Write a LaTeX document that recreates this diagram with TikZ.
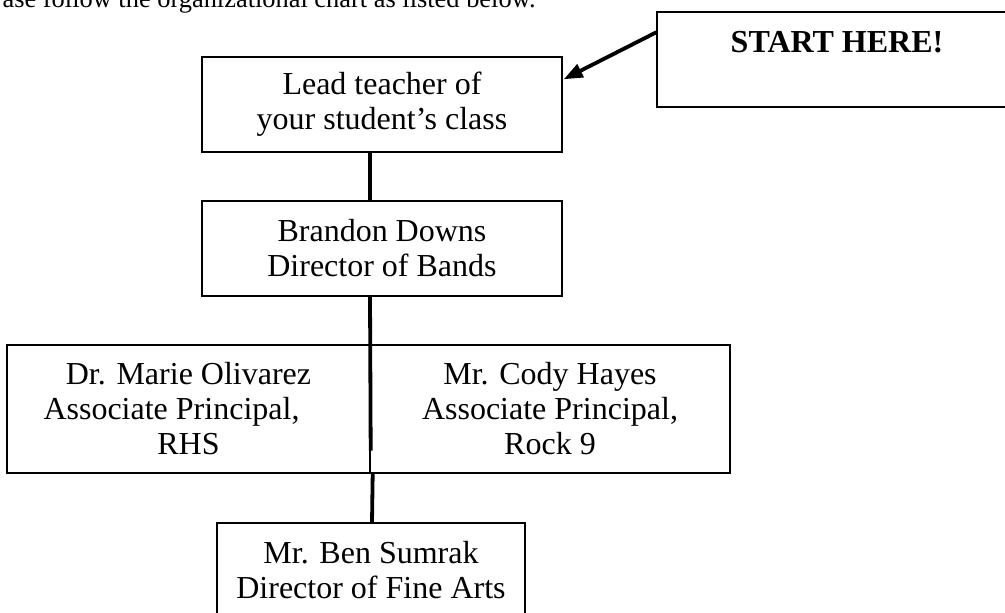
\documentclass[tikz,border=0pt]{standalone}
\usepackage{fontspec}
\setmainfont{Liberation Serif}
\usetikzlibrary{arrows.meta,calc}
\begin{document}
\begin{tikzpicture}[x=0.5pt,y=-0.5pt,
  box/.style={draw, line width=0.7pt, inner sep=0pt, align=center,
    font=\fontsize{16}{17.5}\selectfont},
  conn/.style={line width=1.9pt},
  pointer/.style={line width=1.9pt, -{Triangle[length=9.5pt,width=7pt]}},
  intro/.style={inner sep=0pt, font=\fontsize{13.2}{15}\selectfont}]
\useasboundingbox (0,0) rectangle (1005,613);
\clip (0,0) rectangle (1005,613);
\fill[white] (0,0) rectangle (1005,613);

\node[intro, anchor=base east] (introtext) at (536,8)
  {ase follow the organizational chart as listed below.};

\node[box, minimum width=180pt, minimum height=47.5pt] (start) at (837,59.5)
  {\textbf{START HERE!}\\\mbox{}};

\node[box, minimum width=180pt, minimum height=47.5pt] (lead) at (382,104.5)
  {Lead teacher of\\your student’s class};

\node[box, minimum width=180pt, minimum height=47.5pt] (brandon) at (382,248.5)
  {Brandon Downs\\Director of Bands};

\node[box, minimum width=181.5pt, minimum height=64pt] (marie) at (188.5,409)
  {Dr. Marie Olivarez\\\mbox{Associate Principal,\kern17pt}\\RHS};

\node[box, minimum width=180pt, minimum height=64pt] (cody) at (550,409)
  {Mr. Cody Hayes\\Associate Principal,\\Rock 9};

\node[box, minimum width=154pt, minimum height=47.5pt] (ben) at (371,570.5)
  {Mr. Ben Sumrak\\Director of Fine Arts};

\draw[pointer] ($(start.north west)+(0,21)$) -- ($(lead.north east)+(1,23)$);

\draw[conn] ($(lead.south)+(-12,0)$) -- ($(brandon.north)+(-12,0)$);
\draw[conn] ($(brandon.south)+(-12,0)$) -- ($(marie.south east)+(0,-23)$);
\draw[conn] ($(marie.south east)+(2,0)$) -- ($(ben.north)+(1,0)$);
\end{tikzpicture}
\end{document}
